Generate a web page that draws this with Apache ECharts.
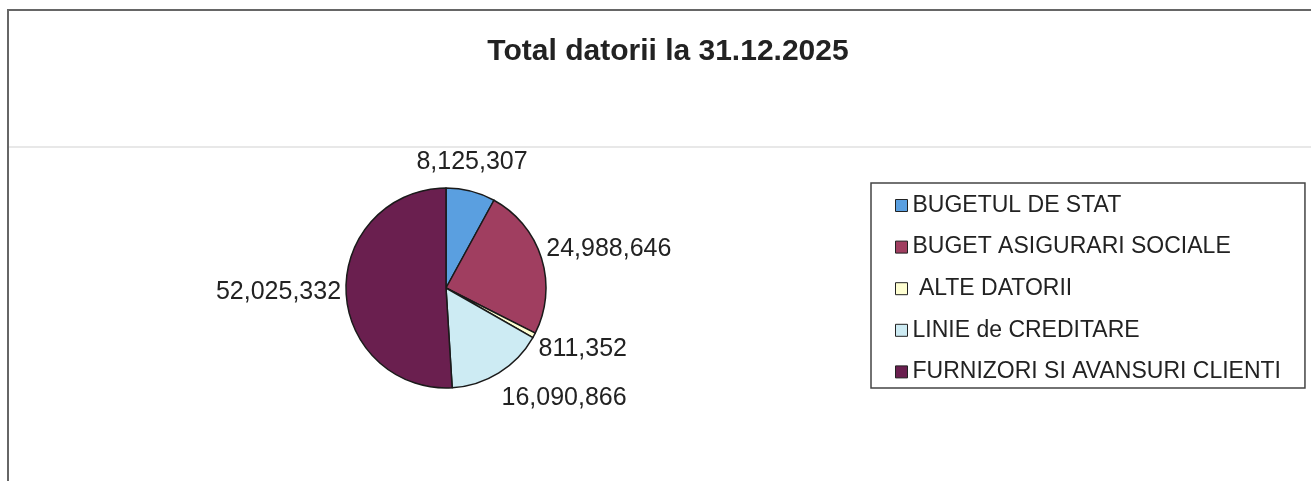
<!DOCTYPE html>
<html>
<head>
<meta charset="utf-8">
<title>Total datorii la 31.12.2025</title>
<script src="https://cdn.jsdelivr.net/npm/echarts@6/dist/echarts.min.js"></script>
<style>
    html, body { margin: 0; padding: 0; background: #fff; }
    #chart { width: 1311px; height: 481px; }
</style>
</head>
<body>
<div id="chart"></div>
<script>
    // date
    const categories = ['BUGETUL DE STAT', 'BUGET ASIGURARI SOCIALE', 'ALTE DATORII', 'LINIE de CREDITARE', 'FURNIZORI SI AVANSURI CLIENTI'];
    const values = [8125307, 24988646, 811352, 16090866, 52025332];
    const colors = ['#5a9fe0', '#a03e60', '#ffffd2', '#cdebf3', '#6a1f4f'];

    const FONT = 'Arial, "Liberation Sans", sans-serif';
    const cx = 446, cy = 288, r = 100;
    const total = values.reduce((a, b) => a + b, 0);

    function fmt(v){
        return v.toLocaleString('en-US');
    }

    // etichetele ca in Excel: langa felie, aliniate dupa directie
    function placeLabel(p){
        let before = 0;
        for (let i = 0; i < p.dataIndex; i++) before += values[i];
        let mid = (before + values[p.dataIndex] / 2) / total * Math.PI * 2;
        let dx = Math.sin(mid), dy = -Math.cos(mid);
        return {
            x: cx + (r + 5) * dx,
            y: cy + (r + 30) * dy,
            align: dx > 0.4 ? 'left' : (dx < -0.4 ? 'right' : 'center'),
            verticalAlign: 'middle'
        };
    }

    let chart = echarts.init(document.getElementById('chart'));
    chart.setOption({
        backgroundColor: '#fff',
        animation: false,
        color: colors,
        title: {
            text: 'Total datorii la 31.12.2025',
            left: 668,
            top: 35,
            textAlign: 'center',
            padding: 0,
            textStyle: {
                fontFamily: FONT,
                fontSize: 30,
                fontWeight: 'bold',
                color: '#222',
                lineHeight: 34
            }
        },
        legend: {
            orient: 'vertical',
            left: 871,
            top: 183,
            padding: [10.5, 24, 4, 24],
            itemGap: 17.6,
            itemWidth: 12,
            itemHeight: 12,
            itemTextGap: 7,
            icon: 'rect',
            borderColor: '#444',
            borderWidth: 1.5,
            formatter: name => name === 'ALTE DATORII' ? ' ' + name : name,
            itemStyle: { borderColor: '#222', borderWidth: 1 },
            textStyle: {
                fontFamily: FONT,
                fontSize: 23,
                color: '#222',
                lineHeight: 24
            },
            data: categories
        },
        graphic: [
            // chenarul scanat
            {
                type: 'polyline',
                silent: true,
                shape: { points: [[8, 481], [8, 10], [1311, 10]] },
                style: { stroke: '#666', lineWidth: 2, fill: null }
            },
            {
                type: 'line',
                silent: true,
                shape: { x1: 9, y1: 147, x2: 1311, y2: 147 },
                style: { stroke: '#e8e8e8', lineWidth: 2 }
            }
        ],
        series: [
            {
                type: 'pie',
                center: [cx, cy],
                radius: r,
                startAngle: 90,
                clockwise: true,
                avoidLabelOverlap: false,
                itemStyle: { borderColor: '#1a1a1a', borderWidth: 1.5 },
                emphasis: { disabled: true },
                label: {
                    show: true,
                    position: 'outside',
                    formatter: p => fmt(p.value),
                    fontFamily: FONT,
                    fontSize: 25,
                    color: '#222'
                },
                labelLine: { show: false },
                labelLayout: placeLabel,
                data: categories.map((c, i) => ({ name: c, value: values[i] }))
            }
        ]
    });
</script>
</body>
</html>
